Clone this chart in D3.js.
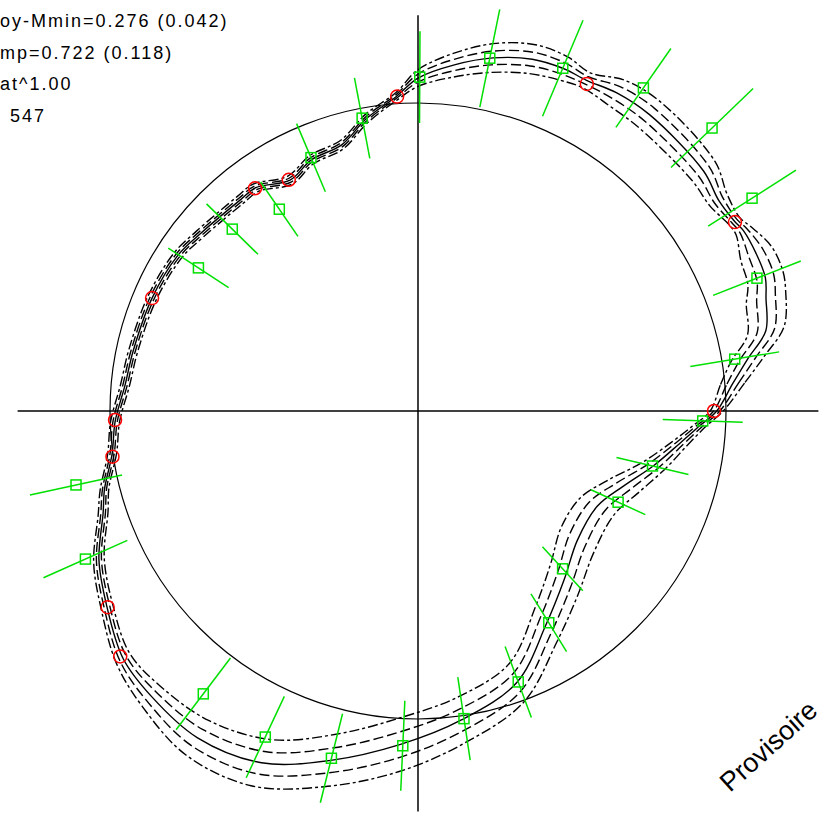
<!doctype html>
<html>
<head>
<meta charset="utf-8">
<title>Provisoire</title>
<script src="https://cdn.jsdelivr.net/npm/d3@7"></script>
<style>
  body { margin: 0; background: #fff; }
  svg { display: block; }
</style>
</head>
<body>
<script>
// fitted curve: angle in degrees (counter-clockwise from east), radius (reference circle = 1)
var curveAngles = [0, 5, 9, 13, 18, 21, 25, 29, 31, 35, 40, 52, 58, 63, 67, 72, 78, 84, 90, 94,
                   100, 106, 113, 119, 126, 130, 141, 147, 157, 168, 175, 182, 188, 194, 198, 205, 212, 220, 227, 236,
                   246, 256, 267, 278, 290, 301, 311, 321, 332, 340, 347, 353, 357];
var curveRadii = [0.970, 1.026, 1.084, 1.159, 1.188, 1.208, 1.211, 1.208, 1.198, 1.192, 1.211, 1.221, 1.218, 1.205, 1.208, 1.201, 1.172, 1.130, 1.081, 1.023,
                  0.964, 0.899, 0.886, 0.857, 0.896, 0.896, 0.912, 0.929, 0.938, 0.945, 0.955, 0.984, 1.003, 1.049, 1.075, 1.143, 1.192, 1.250, 1.268, 1.280,
                  1.250, 1.169, 1.084, 1.013, 0.938, 0.808, 0.724, 0.666, 0.659, 0.711, 0.786, 0.857, 0.916];
var curveSpread = [0.010, 0.019, 0.026, 0.029, 0.032, 0.029, 0.026, 0.013, 0.010, 0.016, 0.023, 0.026, 0.023, 0.013, 0.019, 0.023, 0.023, 0.019, 0.013, 0.006,
                   0.007, 0.007, 0.007, 0.007, 0.007, 0.007, 0.007, 0.007, 0.007, 0.007, 0.007, 0.007, 0.007, 0.007, 0.008, 0.009, 0.010, 0.013, 0.021, 0.032,
                   0.039, 0.042, 0.042, 0.036, 0.032, 0.032, 0.032, 0.032, 0.029, 0.026, 0.019, 0.013, 0.010];

// observations (green squares) with radial error
var obsAngles = [89.7, 78.5, 67.1, 55.1, 43.9, 32.5, 21.4, 9.3, 358, 346.8, 335.5, 312.5, 301.7,
                 290.3, 278.5, 267.4, 256, 244.9, 232.8, 204, 192.2, 146.9, 135.6, 124.5, 112.9, 100.8];
var obsRadii = [1.084, 1.169, 1.208, 1.279, 1.325, 1.286, 1.182, 1.042, 0.925, 0.782, 0.714, 0.695, 0.808,
                0.938, 1.010, 1.088, 1.162, 1.169, 1.153, 1.182, 1.136, 0.851, 0.844, 0.795, 0.893, 0.968];
var obsErr = [0.149, 0.162, 0.169, 0.156, 0.185, 0.169, 0.153, 0.146, 0.130, 0.120, 0.097, 0.097, 0.110,
              0.123, 0.136, 0.146, 0.149, 0.146, 0.146, 0.149, 0.153, 0.117, 0.117, 0.107, 0.120, 0.133];

// red circles
var knotAngles = [93.8, 62.7, 30.8, 0, 119.2, 126.2, 157, 181.7, 188.5, 212.3, 219.5];
var knotRadii = [1.023, 1.195, 1.198, 0.961, 0.860, 0.896, 0.938, 0.984, 1.003, 1.192, 1.253];

var infoLines = ["oy-Mmin=0.276 (0.042)", "mp=0.722 (0.118)", "at^1.00", "547"];
var stamp = "Provisoire";

var width = 833;
var height = 814;
var cx = 418, cy = 411;
var green = "#00e000";

var r = d3.scaleLinear().domain([0, 1]).range([0, 308]);
var toRad = function(a) { return (90 - a) * Math.PI / 180; };

var svg = d3.select("body").append("svg")
    .attr("width", width)
    .attr("height", height);

var g = svg.append("g").attr("transform", "translate(" + cx + "," + cy + ")");

// reference circle
g.append("circle")
    .attr("r", r(1))
    .attr("fill", "none")
    .attr("stroke", "#000")
    .attr("stroke-width", 1.2);

// axes
var ext = r(1.3);
g.append("line")
    .attr("x1", -ext).attr("x2", ext).attr("y1", 0).attr("y2", 0)
    .attr("stroke", "#000").attr("stroke-width", 1.5);
g.append("line")
    .attr("x1", 0).attr("x2", 0).attr("y1", -r(1.285)).attr("y2", ext)
    .attr("stroke", "#000").attr("stroke-width", 1.5);

// curve and its envelopes
var bands = [
    { k: -2.1, dash: "10,3,3,3" },
    { k: -1, dash: "10,4" },
    { k: 0, dash: null },
    { k: 1, dash: "10,4" },
    { k: 2.1, dash: "10,3,3,3" }
];

var line = d3.lineRadial()
    .curve(d3.curveCatmullRomClosed.alpha(0.5))
    .angle(function(d) { return toRad(d.a); })
    .radius(function(d) { return r(d.v); });

bands.forEach(function(b) {
    var pts = curveAngles.map(function(a, i) {
        return { a: a, v: curveRadii[i] + b.k * curveSpread[i] };
    });
    g.append("path")
        .attr("d", line(pts))
        .attr("fill", "none")
        .attr("stroke", "#000")
        .attr("stroke-width", 1.4)
        .attr("stroke-dasharray", b.dash);
});

// observations
var obs = obsAngles.map(function(a, i) { return { a: a, v: obsRadii[i], e: obsErr[i] }; });

g.selectAll("line.err")
    .data(obs)
    .enter()
        .append("line")
        .attr("class", "err")
        .attr("x1", function(d) { return d3.pointRadial(toRad(d.a), r(d.v - d.e))[0]; })
        .attr("y1", function(d) { return d3.pointRadial(toRad(d.a), r(d.v - d.e))[1]; })
        .attr("x2", function(d) { return d3.pointRadial(toRad(d.a), r(d.v + d.e))[0]; })
        .attr("y2", function(d) { return d3.pointRadial(toRad(d.a), r(d.v + d.e))[1]; })
        .attr("stroke", green)
        .attr("stroke-width", 1.5);

g.selectAll("rect.obs")
    .data(obs)
    .enter()
        .append("rect")
        .attr("class", "obs")
        .attr("x", function(d) { return d3.pointRadial(toRad(d.a), r(d.v))[0] - 5; })
        .attr("y", function(d) { return d3.pointRadial(toRad(d.a), r(d.v))[1] - 5; })
        .attr("width", 10)
        .attr("height", 10)
        .attr("fill", "none")
        .attr("stroke", green)
        .attr("stroke-width", 1.5);

// red circles
var knots = knotAngles.map(function(a, i) { return { a: a, v: knotRadii[i] }; });

g.selectAll("circle.knot")
    .data(knots)
    .enter()
        .append("circle")
        .attr("class", "knot")
        .attr("cx", function(d) { return d3.pointRadial(toRad(d.a), r(d.v))[0]; })
        .attr("cy", function(d) { return d3.pointRadial(toRad(d.a), r(d.v))[1]; })
        .attr("r", 6.5)
        .attr("fill", "none")
        .attr("stroke", "#ff0000")
        .attr("stroke-width", 1.5);

// info text at the left edge
svg.selectAll("text.info")
    .data(infoLines)
    .enter()
        .append("text")
        .attr("class", "info")
        .attr("x", function(d, i) { return i === 3 ? 10 : 0; })
        .attr("y", function(d, i) { return 27 + i * 31.5; })
        .attr("font-family", "'Liberation Sans', Arial, sans-serif")
        .attr("font-size", 18)
        .attr("letter-spacing", 2)
        .attr("fill", "#000")
        .text(function(d) { return d; });

svg.append("text")
    .attr("transform", "translate(730,793) rotate(-42)")
    .attr("font-family", "'Liberation Sans', Arial, sans-serif")
    .attr("font-size", 27)
    .attr("fill", "#000")
    .text(stamp);
</script>
</body>
</html>
